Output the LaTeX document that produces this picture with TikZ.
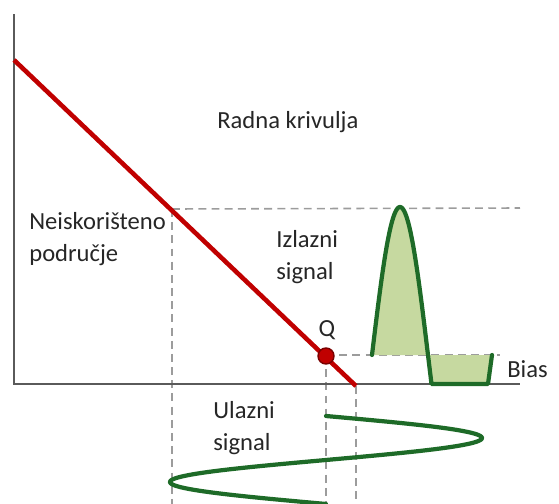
\documentclass[tikz,border=0pt]{standalone}
\usepackage{fontspec}
\setmainfont{Carlito}
\usepackage{tikz}
\definecolor{loadred}{HTML}{C00000}
\definecolor{qedge}{HTML}{7A0000}
\definecolor{sigreen}{HTML}{1E6B28}
\definecolor{sigfill}{HTML}{C6D9A0}
\definecolor{axgray}{HTML}{5A5A5A}
\definecolor{dashgray}{HTML}{9C9C9C}
\definecolor{txtgray}{HTML}{262626}

\begin{document}
\begin{tikzpicture}[x=0.02cm,y=-0.02cm,
  axis/.style={axgray,line width=1.3pt},
  guide/.style={dashgray,line width=0.9pt,dash pattern=on 4.5pt off 3pt},
  sig/.style={sigreen,line width=2.4pt,line join=round,line cap=round},
  lbl/.style={font=\fontsize{14}{16}\selectfont,text=txtgray,inner sep=0pt,anchor=base west},
  qdot/.style={circle,fill=loadred,draw=qedge,line width=0.8pt,minimum size=0.32cm,inner sep=0pt}]
\useasboundingbox (0,0) rectangle (559,504);
\coordinate (ytop) at (14,14);
\coordinate (origin) at (14,384);
\coordinate (xend) at (520,384);
\coordinate (lstart) at (14,60);
\coordinate (lend) at (356,386);
\coordinate (sat) at (172,209);
\coordinate (peak) at (520,208);
\coordinate (biasend) at (500,355);
\coordinate (sbot) at (172,504);
\coordinate (qbot) at (326,504);
\coordinate (lbot) at (356,504);
\draw[guide] (sat) -- (peak);
\draw[guide] (sat) -- (sbot);
\draw[guide] (326,356) -- (qbot);
\draw[guide] (lend) -- (lbot);
\draw[guide] (326,355) -- (biasend);
\fill[sigfill] plot[domain=0:191.3,samples=60] ({372+0.3111*\x},{355-148*sin(\x)})
  -- (488,384) -- (492,355) -- cycle;
\draw[axis] (ytop) -- (origin) -- (xend);
\draw[sig] plot[domain=0:191.3,samples=60] ({372+0.3111*\x},{355-148*sin(\x)})
  -- (488,384) -- (492,355);
\draw[sig] plot[domain=0:360,samples=120] ({326+156*sin(\x)},{416+0.2444*\x});
\draw[loadred,line width=2.6pt] (lstart) -- (lend);
\node[qdot] (q) at (326,356) {};
\node[lbl,anchor=base] (qlbl) at (327,336) {Q};
\node[lbl] (radna) at (217,128) {Radna krivulja};
\node[lbl] (neisk) at (29,229) {Neiskorišteno};
\node[lbl] (podr) at (29,261) {područje};
\node[lbl] (izl) at (276,247) {Izlazni};
\node[lbl] (izs) at (276,279) {signal};
\node[lbl] (ul) at (213,418) {Ulazni};
\node[lbl] (uls) at (213,450) {signal};
\node[lbl] (bias) at (507,377) {Bias};
\end{tikzpicture}
\end{document}
